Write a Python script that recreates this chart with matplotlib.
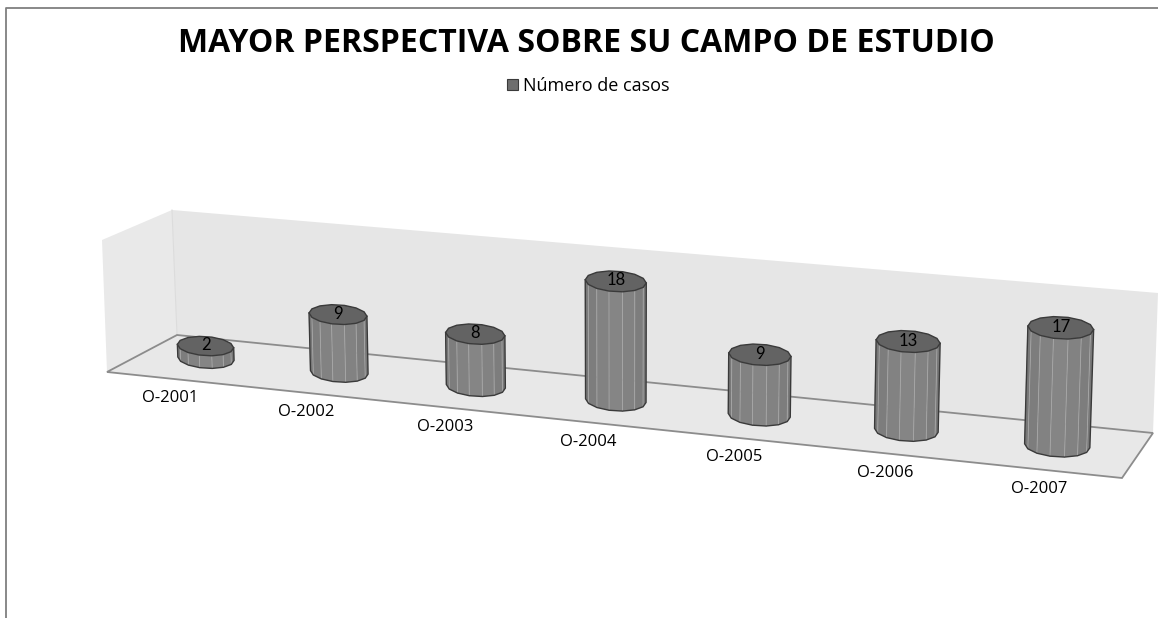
import numpy as np
import matplotlib
matplotlib.use("Agg")
import matplotlib.pyplot as plt
from matplotlib.patches import Polygon, Rectangle

# ------------------------------------------
# Data
# ------------------------------------------
categories = ["O-2001", "O-2002", "O-2003", "O-2004", "O-2005", "O-2006", "O-2007"]
casos = [2, 9, 8, 18, 9, 13, 17]
titulo = "MAYOR PERSPECTIVA SOBRE SU CAMPO DE ESTUDIO"
serie = "Número de casos"
axis_max = 20.5

# ------------------------------------------
# Fake 3D scene: floor corners in pixels
# ------------------------------------------
src = np.array([[0, 0], [1, 0], [1, 1], [0, 1]], float)
dst = np.array([[107, 372], [1122, 478], [1153, 433], [177, 335]], float)

A = []
b = []
for (u, v), (px, py) in zip(src, dst):
    A.append([u, v, 1, 0, 0, 0, -u * px, -v * px])
    A.append([0, 0, 0, u, v, 1, -u * py, -v * py])
    b += [px, py]
H = np.append(np.linalg.solve(np.array(A), np.array(b)), 1).reshape(3, 3)


def project(u, v, z=0.0):
    w = H @ np.array([u, v, 1.0])
    x, y = w[0] / w[2], w[1] / w[2]
    up_x = -5 + 10 * u
    up_y = -(132 - 7 * v + 15 * u)
    return np.array([x + z * up_x, y + z * up_y])


WALL = "#e6e6e6"
EDGE = "#8c8c8c"
OUTLINE = "#3a3a3a"

fig = plt.figure(figsize=(11.58, 6.18), dpi=100)
ax = fig.add_axes([0, 0, 1, 1])
ax.set_xlim(0, 1158)
ax.set_ylim(618, 0)
ax.axis("off")

# chart border, only top and left are visible
ax.plot([5.5, 5.5, 1158], [618, 7.5, 7.5], color="#7f7f7f", lw=1.3)

# walls and floor
left_wall = [project(0, 0), project(0, 1), project(0, 1, 1), project(0, 0, 1)]
back_wall = [project(0, 1), project(1, 1), project(1, 1, 1), project(0, 1, 1)]
floor = [project(0, 0), project(1, 0), project(1, 1), project(0, 1)]
ax.add_patch(Polygon(left_wall, fc="#e9e9e9", ec="none", zorder=1))
ax.add_patch(Polygon(back_wall, fc=WALL, ec="none", zorder=1))
ax.plot(*np.array([project(0, 1), project(0, 1, 1)]).T, color="#dcdcdc", lw=0.8, zorder=1.5)
ax.add_patch(Polygon(floor, fc="#e8e8e8", ec="none", zorder=2))
ax.add_patch(Polygon(floor, fc="none", ec=EDGE, lw=1.3, zorder=2.5))

# cylinders, drawn as 14-sided prisms like the original
t = np.linspace(0, 2 * np.pi, 15)[:-1]
n = len(categories)
for i, (cat, val) in enumerate(zip(categories, casos)):
    u = (i + 0.5) / n - 0.004
    z = val / axis_max
    base = project(u, 0.52)
    top = project(u, 0.52, z)
    rim = (project(u + 0.0305, 0.52) - project(u - 0.0305, 0.52)) / 2
    rim_up = (project(u + 0.0305, 0.52, z) - project(u - 0.0305, 0.52, z)) / 2
    # flatter tilt than the floor edge
    rim = rim * [1, 0.6]
    rim_up = rim_up * [1, 0.6]
    ry = np.hypot(*rim) * 0.34

    bot_pts = np.array([base + rim * np.cos(a) + [0, ry * np.sin(a)] for a in t])
    top_pts = np.array([top + rim_up * np.cos(a) + [0, ry * np.sin(a)] for a in t])

    # side facets, only those toward the viewer: t from 0 to pi
    zo = 3 + i
    front = np.arange(len(t) // 2 + 1)
    for k in front[:-1]:
        m = k + 1
        light = 0.47 + 0.05 * (1 - abs(np.cos((t[k] + t[m]) / 2)) ** 2)
        ax.add_patch(Polygon([bot_pts[k], bot_pts[m], top_pts[m], top_pts[k]],
                             fc=str(light), ec="none", zorder=zo))
        ax.plot([bot_pts[m][0], top_pts[m][0]], [bot_pts[m][1], top_pts[m][1]],
                color="#a6a6a6", lw=0.6, zorder=zo + 0.1)

    # silhouette: down one side, along the lower rim, up the other side
    outline = np.vstack([top_pts[front[0]], bot_pts[front], top_pts[front[-1]]])
    ax.plot(outline[:, 0], outline[:, 1], color=OUTLINE, lw=1.0, zorder=zo + 0.2)
    ax.add_patch(Polygon(top_pts, fc="#636363", ec=OUTLINE, lw=1.0, zorder=zo + 0.3))

    # value label and category label
    ax.text(top[0], top[1] - 1, str(val), ha="center", va="center", fontsize=12,
            family="Lato", color="black", zorder=20)
    lx, ly = project((i + 0.5) / n, 0)
    ax.text(lx - 4, ly + 19, cat, ha="center", va="center", fontsize=12,
            family="Open Sans", color="black", zorder=20)

# title and legend
ax.text(586, 43, titulo, ha="center", va="center", fontsize=23, fontweight="bold",
        family="Open Sans", color="black")
ax.add_patch(Rectangle((507, 79), 11, 11, fc="#6e6e6e", ec=OUTLINE, lw=0.8))
ax.text(523, 86, serie, ha="left", va="center", fontsize=13,
        family="Open Sans", color="black")

fig.savefig("out.png", dpi=100)
